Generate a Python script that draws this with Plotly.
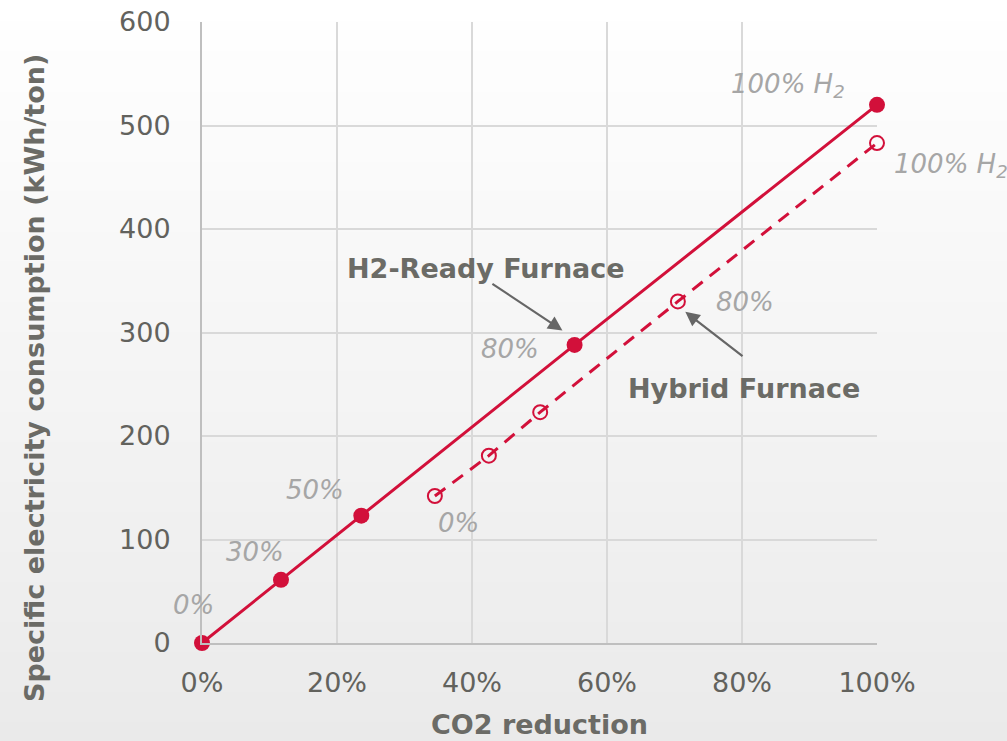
import plotly.graph_objects as go

# Data
h2_x = [0.0, 0.117, 0.236, 0.552, 1.0]
h2_y = [0, 61, 123, 288, 520]
h2_labels = ["0%", "30%", "50%", "80%", "100% H<sub>2</sub>"]

hy_x = [0.345, 0.425, 0.501, 0.705, 1.0]
hy_y = [142, 181, 223, 330, 483]
hy_labels = ["0%", "80%", "100% H<sub>2</sub>"]

x_ticks = [0, 0.2, 0.4, 0.6, 0.8, 1.0]
x_tick_text = ["0%", "20%", "40%", "60%", "80%", "100%"]
y_ticks = [0, 100, 200, 300, 400, 500, 600]

RED = "#d2103a"
TICK = "#62625d"
LAB = "#a6a6a6"
TITLE = "#6b6b66"
FONT = "DejaVu Sans"
YMAX = 600

W, H = 1007, 741
ML, MR, MT, MB = 202, 130, 22, 98
PH = H - MT - MB

fig = go.Figure()

# background gradient bands covering the whole figure (paper coords)
n = 74
shapes = []
pb = -MB / PH          # paper y of figure bottom
pt = 1 + MT / PH       # paper y of figure top
for i in range(n):
    y0 = pb + (pt - pb) * i / n
    y1 = pb + (pt - pb) * (i + 1) / n
    frac = 1 - (i + 0.5) / n  # 0 at top, 1 at bottom
    g = int(round(255 - frac * 21))
    shapes.append(dict(type="rect", xref="paper", yref="paper", x0=-1, x1=2,
                       y0=y0 - 0.002, y1=y1 + 0.002, line=dict(width=0),
                       fillcolor=f"rgb({g},{g},{g})", layer="below"))

fig.add_trace(go.Scatter(x=h2_x, y=h2_y, mode="lines+markers",
                         line=dict(color=RED, width=3),
                         marker=dict(color=RED, size=16),
                         showlegend=False, cliponaxis=False))
fig.add_trace(go.Scatter(x=hy_x, y=hy_y, mode="lines+markers",
                         line=dict(color=RED, width=3, dash="13px,9px"),
                         marker=dict(symbol="circle-open", color=RED, size=14,
                                     line=dict(width=2)),
                         showlegend=False, cliponaxis=False))

ital = dict(family=FONT, size=26, color=LAB)
anns = []
# label positions in data units (x fraction, y kWh/ton); placed via paper refs
label_pos = [(-0.013, 37), (0.079, 88), (0.167, 148), (0.456, 284), (0.868, 539)]
for (lx, ly), txt in zip(label_pos, h2_labels):
    anns.append(dict(xref="paper", yref="paper", x=lx, y=ly / YMAX, text=f"<i>{txt}</i>",
                     showarrow=False, font=ital, xanchor="center", yanchor="middle"))
hy_label_pos = [(0.38, 116), (0.804, 329), (1.11, 461)]
for (lx, ly), txt in zip(hy_label_pos, hy_labels):
    anns.append(dict(xref="paper", yref="paper", x=lx, y=ly / YMAX, text=f"<i>{txt}</i>",
                     showarrow=False, font=ital, xanchor="center", yanchor="middle"))

bold = dict(family=FONT, size=27, color=TITLE)
anns.append(dict(x=0.421, y=362, text="<b>H2-Ready Furnace</b>", showarrow=False,
                 font=bold, xanchor="center", yanchor="middle"))
anns.append(dict(x=0.803, y=246, text="<b>Hybrid Furnace</b>", showarrow=False,
                 font=bold, xanchor="center", yanchor="middle"))
# arrows
anns.append(dict(x=0.534, y=302, ax=0.428, ay=348, xref="x", yref="y", axref="x", ayref="y",
                 text="", showarrow=True, arrowhead=2, arrowsize=1.3, arrowwidth=2.2,
                 arrowcolor="#666666"))
anns.append(dict(x=0.716, y=320, ax=0.803, ay=276, xref="x", yref="y", axref="x", ayref="y",
                 text="", showarrow=True, arrowhead=2, arrowsize=1.3, arrowwidth=2.2,
                 arrowcolor="#666666"))
# y-axis title as rotated annotation
anns.append(dict(xref="paper", yref="paper", x=(34 - ML) / (W - ML - MR), y=(643 - 378) / PH,
                 text="<b>Specific electricity consumption (kWh/ton)</b>", textangle=-90,
                 showarrow=False, font=dict(family=FONT, size=27, color=TITLE),
                 xanchor="center", yanchor="middle"))

fig.update_layout(
    width=W, height=H,
    margin=dict(l=ML, r=MR, t=MT, b=MB),
    paper_bgcolor="#f4f4f4", plot_bgcolor="rgba(0,0,0,0)",
    shapes=shapes, annotations=anns,
    font=dict(family=FONT, color=TICK),
    xaxis=dict(range=[0, 1.0], tickvals=x_ticks, ticktext=x_tick_text,
               showgrid=True, gridcolor="#d9d9d9", gridwidth=1.5,
               zeroline=False, showline=True, linecolor="#bfbfbf", linewidth=2,
               tickfont=dict(size=27, color=TICK), ticklabelstandoff=15,
               title=dict(text="<b>CO2 reduction</b>", font=dict(size=27, color=TITLE), standoff=18),
               fixedrange=True, automargin=False),
    yaxis=dict(range=[0, YMAX], tickvals=y_ticks,
               showgrid=True, gridcolor="#d9d9d9", gridwidth=1.5,
               zeroline=False, showline=True, linecolor="#bfbfbf", linewidth=2,
               tickfont=dict(size=27, color=TICK), ticklabelstandoff=24,
               fixedrange=True, automargin=False),
)

fig.write_html("out.html", config={"displayModeBar": False},
               post_script="document.body.style.margin='0';")
